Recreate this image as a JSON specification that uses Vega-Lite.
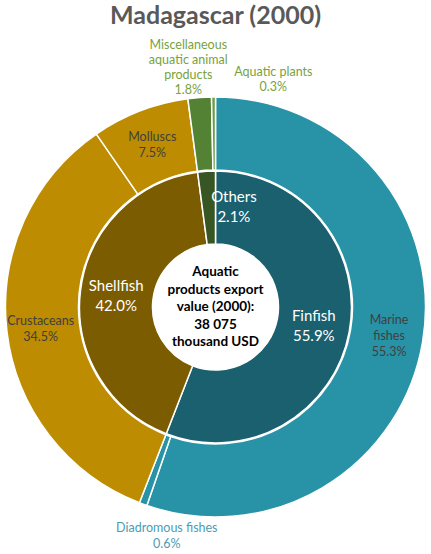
{
  "$schema": "https://vega.github.io/schema/vega-lite/v6.json",
  "width": 431,
  "height": 494,
  "autosize": {"type": "none"},
  "padding": {"top": 60, "left": 0, "right": 0, "bottom": 0},
  "background": "white",
  "title": {
    "text": "Madagascar (2000)",
    "font": "Lato",
    "fontSize": 25,
    "fontWeight": "bold",
    "color": "#595959",
    "anchor": "middle",
    "baseline": "alphabetic",
    "offset": 20,
    "dy": 31
  },
  "config": {"view": {"stroke": null}, "text": {"font": "Lato"}},
  "datasets": {
    "outer": [
      {"name": "Marine fishes", "label": "Marine\nfishes\n55.3%", "value": 55.3, "ord": 1},
      {"name": "Diadromous fishes", "label": "Diadromous fishes\n0.6%", "value": 0.6, "ord": 2},
      {"name": "Crustaceans", "label": "Crustaceans\n34.5%", "value": 34.5, "ord": 3},
      {"name": "Molluscs", "label": "Molluscs\n7.5%", "value": 7.5, "ord": 4},
      {"name": "Miscellaneous aquatic animal products", "label": "Miscellaneous\naquatic animal\nproducts\n1.8%", "value": 1.8, "ord": 5},
      {"name": "Aquatic plants", "label": "Aquatic plants\n0.3%", "value": 0.3, "ord": 6}
    ],
    "inner": [
      {"name": "Finfish", "label": "Finfish\n55.9%", "value": 55.9, "ord": 1},
      {"name": "Shellfish", "label": "Shellfish\n42.0%", "value": 42.0, "ord": 2},
      {"name": "Others", "label": "Others\n2.1%", "value": 2.1, "ord": 3}
    ],
    "center": [
      {"label": "Aquatic\nproducts export\nvalue (2000):\n38 075\nthousand USD"}
    ]
  },
  "layer": [
    {
      "data": {"name": "outer"},
      "mark": {"type": "arc", "innerRadius": 137, "outerRadius": 210, "stroke": "white", "strokeWidth": 1.5},
      "encoding": {
        "theta": {"field": "value", "type": "quantitative", "stack": true},
        "order": {"field": "ord", "type": "quantitative"},
        "color": {
          "field": "name", "type": "nominal", "legend": null,
          "scale": {
            "domain": ["Marine fishes", "Diadromous fishes", "Crustaceans", "Molluscs", "Miscellaneous aquatic animal products", "Aquatic plants", "Finfish", "Shellfish", "Others"],
            "range": ["#2893a7", "#2893a7", "#bd8c00", "#bd8c00", "#548235", "#6a9a45", "#1b606f", "#7c5c00", "#375623"]
          }
        }
      }
    },
    {
      "data": {"name": "inner"},
      "mark": {"type": "arc", "innerRadius": 63, "outerRadius": 136, "stroke": "white", "strokeWidth": 1.5},
      "encoding": {
        "theta": {"field": "value", "type": "quantitative", "stack": true},
        "order": {"field": "ord", "type": "quantitative"},
        "color": {"field": "name", "type": "nominal", "legend": null}
      }
    },
    {
      "data": {"name": "outer"},
      "mark": {"type": "text", "radius": 176, "dy": -16, "fontSize": 12.5, "lineHeight": 16, "lineBreak": "\n", "align": "center", "baseline": "middle", "color": "#404040"},
      "encoding": {
        "theta": {"field": "value", "type": "quantitative", "stack": true},
        "order": {"field": "ord", "type": "quantitative"},
        "text": {"condition": {"test": "datum.name === 'Marine fishes'", "field": "label"}, "value": ""}
      }
    },
    {
      "data": {"name": "outer"},
      "mark": {"type": "text", "radius": 176, "dy": -6, "fontSize": 12.5, "lineHeight": 16, "lineBreak": "\n", "align": "center", "baseline": "middle", "color": "#404040"},
      "encoding": {
        "theta": {"field": "value", "type": "quantitative", "stack": true},
        "order": {"field": "ord", "type": "quantitative"},
        "text": {"condition": {"test": "datum.name === 'Crustaceans' || datum.name === 'Molluscs'", "field": "label"}, "value": ""}
      }
    },
    {
      "data": {"name": "outer"},
      "mark": {"type": "text", "radius": 242, "dx": -9, "dy": -21, "fontSize": 12.5, "lineHeight": 15, "lineBreak": "\n", "align": "center", "baseline": "middle", "color": "#78a23c"},
      "encoding": {
        "theta": {"field": "value", "type": "quantitative", "stack": true},
        "order": {"field": "ord", "type": "quantitative"},
        "text": {"condition": {"test": "datum.name === 'Miscellaneous aquatic animal products'", "field": "label"}, "value": ""}
      }
    },
    {
      "data": {"name": "outer"},
      "mark": {"type": "text", "radius": 228, "dx": 60, "dy": -7, "fontSize": 12.5, "lineHeight": 15, "lineBreak": "\n", "align": "center", "baseline": "middle", "color": "#78a23c"},
      "encoding": {
        "theta": {"field": "value", "type": "quantitative", "stack": true},
        "order": {"field": "ord", "type": "quantitative"},
        "text": {"condition": {"test": "datum.name === 'Aquatic plants'", "field": "label"}, "value": ""}
      }
    },
    {
      "data": {"name": "outer"},
      "mark": {"type": "text", "radius": 240, "dx": 34, "dy": -4, "fontSize": 12.5, "lineHeight": 16, "lineBreak": "\n", "align": "center", "baseline": "middle", "color": "#4a9db5"},
      "encoding": {
        "theta": {"field": "value", "type": "quantitative", "stack": true},
        "order": {"field": "ord", "type": "quantitative"},
        "text": {"condition": {"test": "datum.name === 'Diadromous fishes'", "field": "label"}, "value": ""}
      }
    },
    {
      "data": {"name": "inner"},
      "mark": {"type": "text", "radius": 100, "dy": -9, "fontSize": 15, "lineHeight": 20, "lineBreak": "\n", "align": "center", "baseline": "middle", "color": "white"},
      "encoding": {
        "theta": {"field": "value", "type": "quantitative", "stack": true},
        "order": {"field": "ord", "type": "quantitative"},
        "text": {"condition": {"test": "datum.name !== 'Others'", "field": "label"}, "value": ""}
      }
    },
    {
      "data": {"name": "inner"},
      "mark": {"type": "text", "radius": 100, "dx": 25, "dy": -10, "fontSize": 15, "lineHeight": 20, "lineBreak": "\n", "align": "center", "baseline": "middle", "color": "white"},
      "encoding": {
        "theta": {"field": "value", "type": "quantitative", "stack": true},
        "order": {"field": "ord", "type": "quantitative"},
        "text": {"condition": {"test": "datum.name === 'Others'", "field": "label"}, "value": ""}
      }
    },
    {
      "data": {"name": "center"},
      "mark": {"type": "text", "dy": -35, "fontSize": 13.5, "fontWeight": "bold", "lineHeight": 17.5, "lineBreak": "\n", "align": "center", "baseline": "middle", "color": "black"},
      "encoding": {
        "text": {"field": "label", "type": "nominal"}
      }
    }
  ]
}
